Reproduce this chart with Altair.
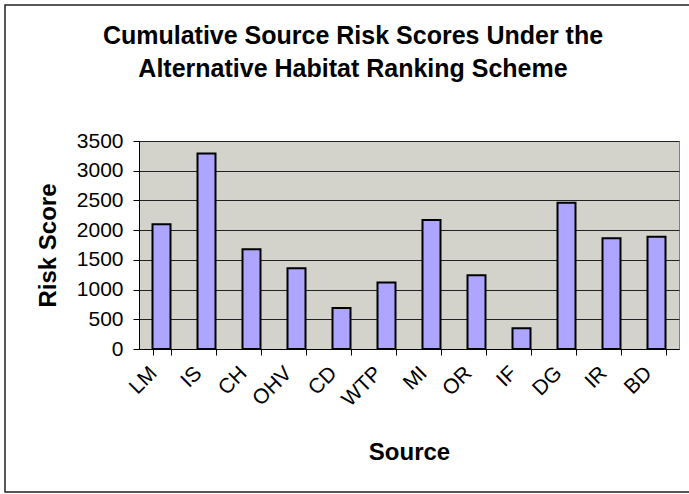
import altair as alt
import pandas as pd

# Cumulative risk score per source
sources = ["LM", "IS", "CH", "OHV", "CD", "WTP", "MI", "OR", "IF", "DG", "IR", "BD"]
scores = [2100, 3290, 1680, 1360, 690, 1120, 2170, 1240, 350, 2460, 1865, 1890]
y_ticks = [0, 500, 1000, 1500, 2000, 2500, 3000, 3500]

title_lines = [
    "Cumulative Source Risk Scores Under the",
    "Alternative Habitat Ranking Scheme",
]

FONT = "Liberation Sans"
W, H = 540, 208
PAD_L, PAD_T = 139, 141

df = pd.DataFrame({"source": sources, "score": scores})
one = pd.DataFrame({"k": [0]})

bars = alt.Chart(df).mark_bar(
    fill="#ada5ff", stroke="black", strokeWidth=2
).encode(
    x=alt.X(
        "source:N",
        sort=sources,
        scale=alt.Scale(paddingInner=0.6, paddingOuter=0.3),
        axis=alt.Axis(
            title="Source",
            titleFont=FONT,
            titleFontSize=24,
            titleFontWeight="bold",
            titleColor="black",
            titleX=W / 2,
            titleY=110,
            titleBaseline="alphabetic",
            labelFont=FONT,
            labelFontSize=21,
            labelColor="black",
            labelAngle=-45,
            labelAlign="right",
            labelBaseline="top",
            labelPadding=7,
            labelOffset=-16,
            tickBand="extent",
            tickSize=6,
            tickColor="black",
            domainColor="black",
            grid=False,
        ),
    ),
    y=alt.Y(
        "score:Q",
        scale=alt.Scale(domain=[0, 3500], nice=False),
        axis=alt.Axis(
            title="Risk Score",
            values=y_ticks,
            format="d",
            titleFont=FONT,
            titleFontSize=24,
            titleFontWeight="bold",
            titleColor="black",
            titleAngle=-90,
            titleX=-91,
            titleY=H / 2,
            titleAlign="center",
            titleBaseline="middle",
            labelFont=FONT,
            labelFontSize=21,
            labelColor="black",
            labelPadding=10,
            tickSize=6,
            tickColor="black",
            domainColor="black",
            gridColor="#222222",
            gridOpacity=1,
            gridWidth=1,
        ),
    ),
)

# Frame drawn around the whole figure
frame = alt.Chart(one).mark_rect(
    fill="transparent", stroke="#222222", strokeWidth=1.5
).encode(
    x=alt.value(5 - PAD_L),
    x2=alt.value(695 - PAD_L),
    y=alt.value(5 - PAD_T),
    y2=alt.value(492 - PAD_T),
)

# Two-line chart heading
heading = [
    alt.Chart(one).mark_text(
        font=FONT, fontSize=25, fontWeight="bold", color="black",
        align="center", baseline="alphabetic",
    ).encode(
        x=alt.value(353 - PAD_L),
        y=alt.value(base - PAD_T),
        text=alt.value(line),
    )
    for line, base in zip(title_lines, [44, 77])
]

chart = alt.layer(bars, frame, *heading).properties(
    width=W,
    height=H,
    autosize=alt.AutoSizeParams(type="none"),
    padding={"left": PAD_L, "top": PAD_T, "right": 689 - PAD_L - W, "bottom": 494 - PAD_T - H},
    background="white",
).configure_view(
    fill="#d3d3cc", stroke="#808080", strokeWidth=1
)

chart.save("out.html", embed_options={"renderer": "svg", "actions": False})
